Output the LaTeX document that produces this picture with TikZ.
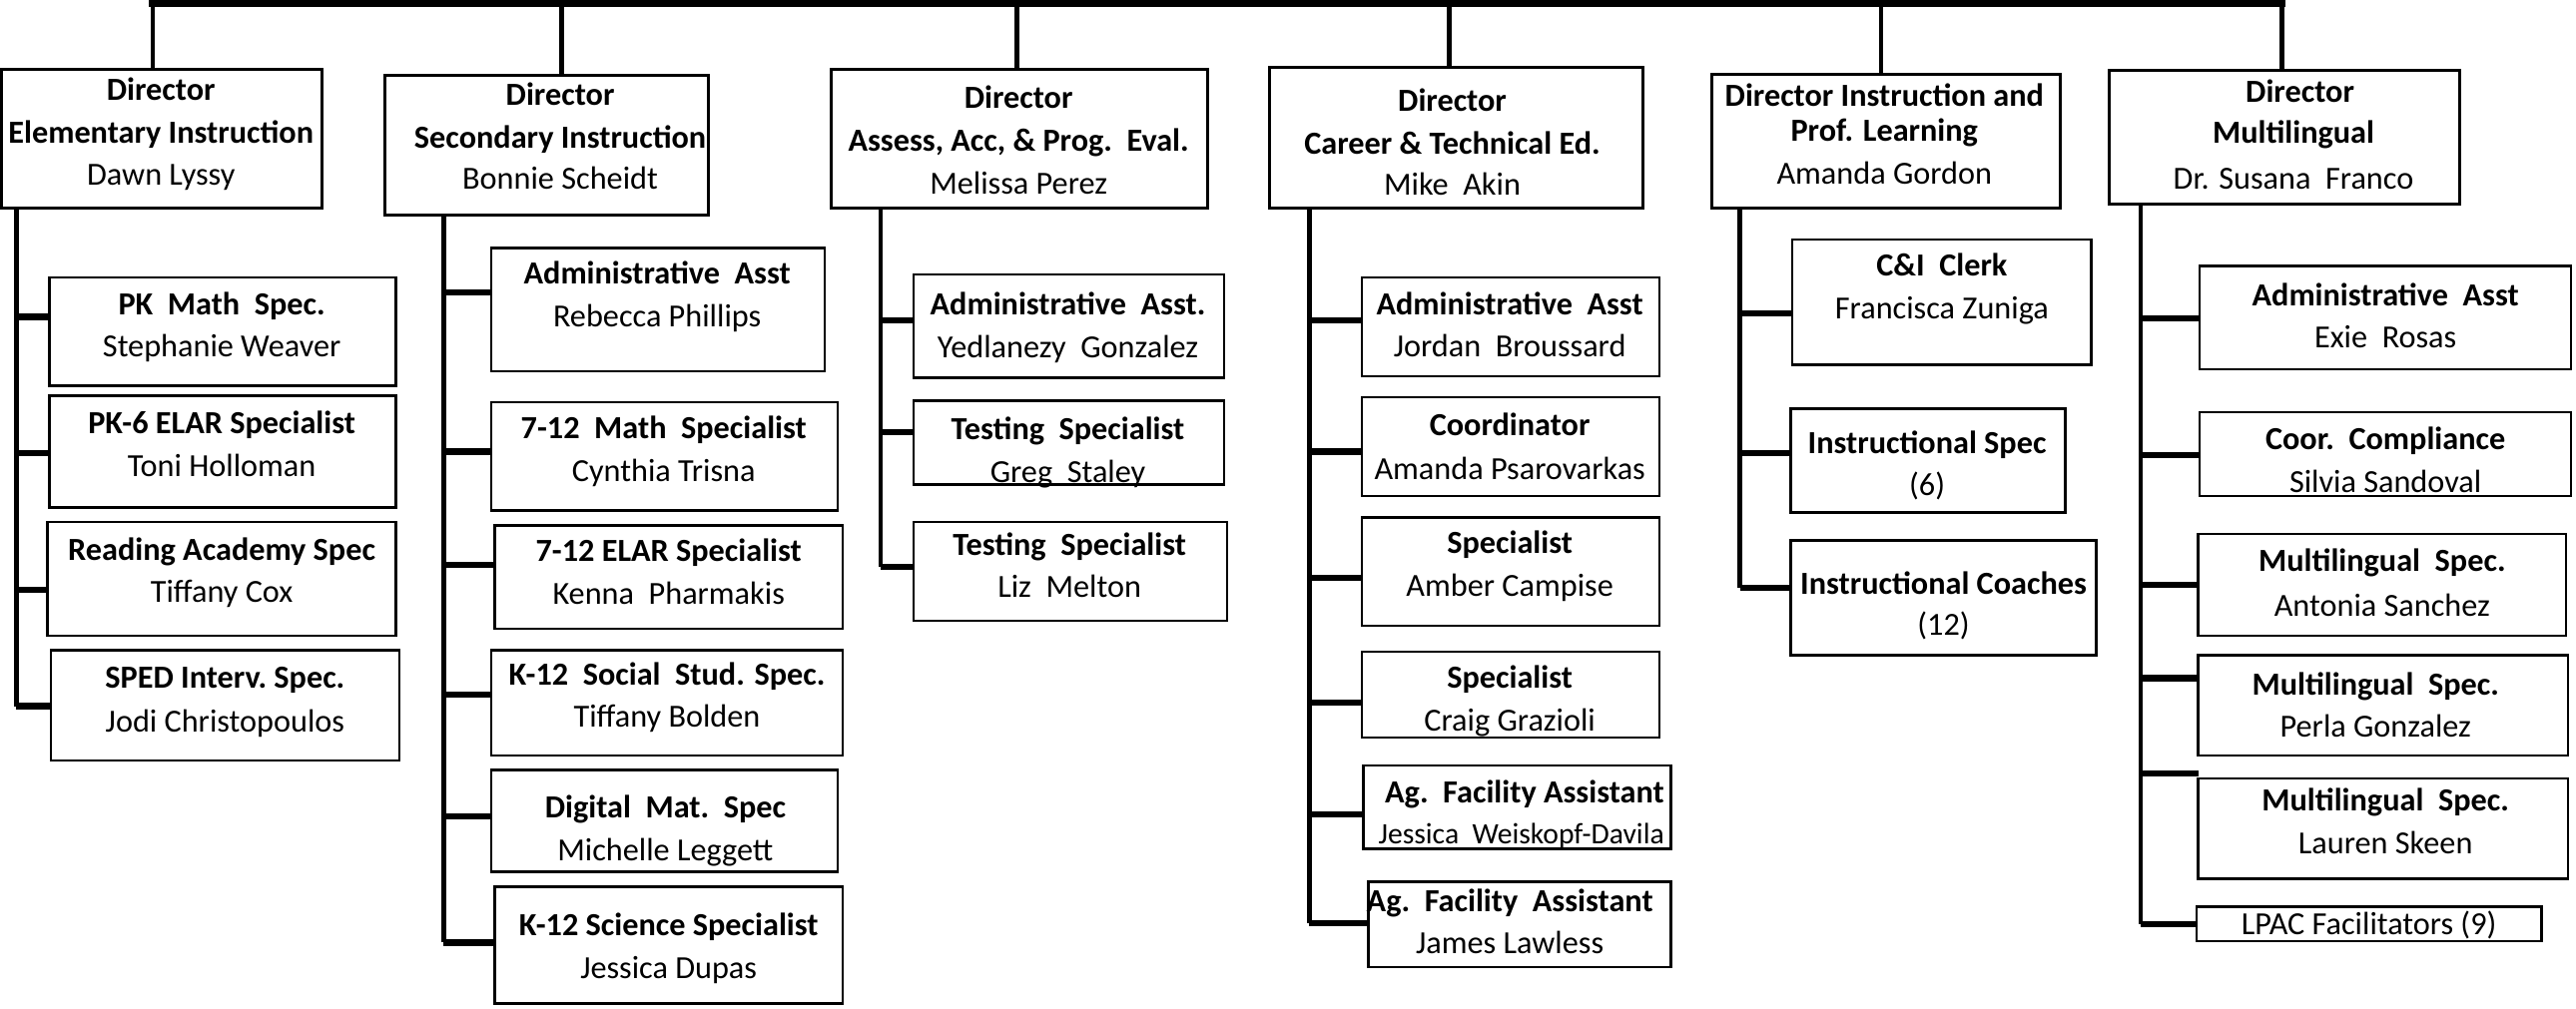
\documentclass[tikz,border=0pt]{standalone}
\usepackage{fontspec}
\setmainfont{Carlito}
\newcommand\mkbox[6][bx]{\node[#1, minimum width={(#5-#3)*0.5pt}, minimum height={(#6-#4)*0.5pt}] (#2) at ({(#3+#5)/2},{(#4+#6)/2}) {};}
\newcommand\tx[5]{\node[#4] (#1) at (#2,#3) [yshift=-3pt] {#5};}
\begin{document}
\begin{tikzpicture}[x=0.5pt,y=-0.5pt,
  bx/.style={draw=black, line width=0.75pt, fill=white, inner sep=0pt, outer sep=0pt},
  dbx/.style={bx, line width=0.9pt},
  vline/.style={line width=1.45pt},
  tick/.style={line width=1.9pt},
  topline/.style={line width=2.4pt},
  tt/.style={font=\fontsize{9.8}{12}\selectfont\bfseries, anchor=base, inner sep=0pt},
  nm/.style={font=\fontsize{9.8}{12}\selectfont, anchor=base, inner sep=0pt},
  sm/.style={font=\fontsize{9}{11}\selectfont, anchor=base, inner sep=0pt}]
\useasboundingbox (0,0) rectangle (1568,614);
% ---------- directors ----------
\mkbox[dbx]{d1}{1}{42}{196}{127}
\tx{d1a}{98}{55}{tt}{Director}
\tx{d1b}{98}{81}{tt}{Elementary Instruction}
\tx{d1c}{98}{107}{nm}{Dawn Lyssy}
\mkbox[dbx]{d2}{234}{46}{431}{131}
\tx{d2a}{341}{58}{tt}{Director}
\tx{d2b}{341}{84}{tt}{Secondary Instruction}
\tx{d2c}{341}{109}{nm}{Bonnie Scheidt}
\mkbox[dbx]{d3}{506}{42}{735}{127}
\tx{d3a}{620}{60}{tt}{Director}
\tx{d3b}{620}{86}{tt}{Assess, Acc, \& Prog.\ \ Eval.}
\tx{d3c}{620}{112}{nm}{Melissa Perez}
\mkbox[dbx]{d4}{773}{41}{1000}{127}
\tx{d4a}{884}{62}{tt}{Director}
\tx{d4b}{884}{88}{tt}{Career \& Technical Ed.}
\tx{d4c}{884}{113}{nm}{Mike\ \ Akin}
\mkbox[dbx]{d5}{1042}{45}{1254}{127}
\tx{d5a}{1147}{59}{tt}{Director Instruction and}
\tx{d5b}{1147}{80}{tt}{Prof. Learning}
\tx{d5c}{1147}{106}{nm}{Amanda Gordon}
\mkbox[dbx]{d6}{1284}{43}{1497}{124}
\tx{d6a}{1400}{56}{tt}{Director}
\tx{d6b}{1396}{81}{tt}{Multilingual}
\tx{d6c}{1396}{109}{nm}{Dr. Susana\ \ Franco}
% ---------- top bar ----------
\coordinate (tl) at (93,2);
\coordinate (tr) at (1389,2);
\draw[topline] ([xshift=-1.1pt]tl) -- ([xshift=1.1pt]tr);
\draw[vline] (tl) -- (d1.north -| tl);
\draw[vline] (342,2) -- (d2.north -| 342,0);
\draw[vline] (619,2) -- (d3.north -| 619,0);
\draw[vline] (882,2) -- (d4.north -| 882,0);
\draw[vline] (1145,2) -- (d5.north -| 1145,0);
\draw[vline] (tr) -- (d6.north -| tr);
% ---------- branch 1 ----------
\mkbox{c11}{30}{169}{241}{235}
\tx{c11a}{135}{186}{tt}{PK\ \ Math\ \ Spec.}
\tx{c11b}{135}{211}{nm}{Stephanie Weaver}
\mkbox{c12}{30}{241}{241}{309}
\tx{c12a}{135}{258}{tt}{PK-6 ELAR Specialist}
\tx{c12b}{135}{284}{nm}{Toni Holloman}
\mkbox{c13}{29}{318}{241}{387}
\tx{c13a}{135}{335}{tt}{Reading\ Academy\ Spec}
\tx{c13b}{135}{361}{nm}{Tiffany\ Cox}
\mkbox{c14}{31}{396}{243}{463}
\tx{c14a}{137}{413}{tt}{SPED\ Interv.\ Spec.}
\tx{c14b}{137}{440}{nm}{Jodi Christopoulos}
\draw[vline] (d1.south -| 10,0) -- (10,430);
\draw[tick] (10,193) -- (c11.west |- 10,193);
\draw[tick] (10,276) -- (c12.west |- 10,276);
\draw[tick] (10,359) -- (c13.west |- 10,359);
\draw[tick] (10,430) -- (c14.west |- 10,430);
% ---------- branch 2 ----------
\mkbox{c21}{299}{151}{502}{226}
\tx{c21a}{400}{167}{tt}{Administrative\ \ Asst}
\tx{c21b}{400}{193}{nm}{Rebecca\ Phillips}
\mkbox{c22}{299}{245}{510}{311}
\tx{c22a}{404}{261}{tt}{7-12\ \ Math\ \ Specialist}
\tx{c22b}{404}{287}{nm}{Cynthia Trisna}
\mkbox{c23}{301}{320}{513}{383}
\tx{c23a}{407}{336}{tt}{7-12 ELAR Specialist}
\tx{c23b}{407}{362}{nm}{Kenna\ \ Pharmakis}
\mkbox{c24}{299}{396}{513}{460}
\tx{c24a}{406}{411}{tt}{K-12\ \ Social\ \ Stud. Spec.}
\tx{c24b}{406}{437}{nm}{Tiffany Bolden}
\mkbox{c25}{299}{469}{510}{531}
\tx{c25a}{405}{492}{tt}{Digital\ \ Mat.\ \ Spec}
\tx{c25b}{405}{518}{nm}{Michelle Leggett}
\mkbox{c26}{301}{540}{513}{611}
\tx{c26a}{407}{564}{tt}{K-12 Science Specialist}
\tx{c26b}{407}{590}{nm}{Jessica Dupas}
\draw[vline] (d2.south -| 270,0) -- (270,574);
\draw[tick] (270,178) -- (c21.west |- 270,178);
\draw[tick] (270,275) -- (c22.west |- 270,275);
\draw[tick] (270,344) -- (c23.west |- 270,344);
\draw[tick] (270,423) -- (c24.west |- 270,423);
\draw[tick] (270,497) -- (c25.west |- 270,497);
\draw[tick] (270,574) -- (c26.west |- 270,574);
% ---------- branch 3 ----------
\mkbox{c31}{556}{167}{745}{230}
\tx{c31a}{650}{186}{tt}{Administrative\ \ Asst.}
\tx{c31b}{650}{212}{nm}{Yedlanezy\ \ Gonzalez}
\mkbox{c32}{556}{244}{745}{295}
\tx{c32a}{650}{262}{tt}{Testing\ \ Specialist}
\tx{c32b}{650}{288}{nm}{Greg\ \ Staley}
\mkbox{c33}{556}{318}{747}{378}
\tx{c33a}{651}{332}{tt}{Testing\ \ Specialist}
\tx{c33b}{651}{358}{nm}{Liz\ \ Melton}
\draw[vline] (d3.south -| 536,0) -- (536,345);
\draw[tick] (536,195) -- (c31.west |- 536,195);
\draw[tick] (536,263) -- (c32.west |- 536,263);
\draw[tick] (536,345) -- (c33.west |- 536,345);
% ---------- branch 4 ----------
\mkbox{c41}{829}{169}{1010}{229}
\tx{c41a}{919}{186}{tt}{Administrative\ \ Asst}
\tx{c41b}{919}{211}{nm}{Jordan\ \ Broussard}
\mkbox{c42}{829}{242}{1010}{302}
\tx{c42a}{919}{259}{tt}{Coordinator}
\tx{c42b}{919}{286}{nm}{Amanda Psarovarkas}
\mkbox{c43}{829}{315}{1010}{381}
\tx{c43a}{919}{331}{tt}{Specialist}
\tx{c43b}{919}{357}{nm}{Amber Campise}
\mkbox{c44}{829}{397}{1010}{449}
\tx{c44a}{919}{413}{tt}{Specialist}
\tx{c44b}{919}{439}{nm}{Craig Grazioli}
\mkbox{c45}{830}{466}{1017}{517}
\tx{c45a}{928}{483}{tt}{Ag.\ \ Facility\ Assistant}
\tx{c45b}{926}{508}{sm}{Jessica\ \ Weiskopf-Davila}
\mkbox{c46}{833}{537}{1017}{589}
\tx{c46a}{919}{549}{tt}{Ag.\ \ Facility\ \ Assistant}
\tx{c46b}{919}{575}{nm}{James Lawless}
\draw[vline] (d4.south -| 797,0) -- (797,562);
\draw[tick] (797,195) -- (c41.west |- 797,195);
\draw[tick] (797,275) -- (c42.west |- 797,275);
\draw[tick] (797,352) -- (c43.west |- 797,352);
\draw[tick] (797,428) -- (c44.west |- 797,428);
\draw[tick] (797,496) -- (c45.west |- 797,496);
\draw[tick] (797,562) -- (c46.west |- 797,562);
% ---------- branch 5 ----------
\mkbox{c51}{1091}{146}{1273}{222}
\tx{c51a}{1182}{162}{tt}{C\&I\ \ Clerk}
\tx{c51b}{1182}{188}{nm}{Francisca Zuniga}
\mkbox{c52}{1090}{249}{1257}{312}
\tx{c52a}{1173}{270}{tt}{Instructional Spec}
\tx{c52b}{1173}{296}{nm}{(6)}
\mkbox{c53}{1090}{329}{1276}{399}
\tx{c53a}{1183}{356}{tt}{Instructional Coaches}
\tx{c53b}{1183}{381}{nm}{(12)}
\draw[vline] (d5.south -| 1059,0) -- (1059,358);
\draw[tick] (1059,191) -- (c51.west |- 1059,191);
\draw[tick] (1059,276) -- (c52.west |- 1059,276);
\draw[tick] (1059,358) -- (c53.west |- 1059,358);
% ---------- branch 6 ----------
\mkbox{c61}{1339}{162}{1565}{225}
\tx{c61a}{1452}{180}{tt}{Administrative\ \ Asst}
\tx{c61b}{1452}{206}{nm}{Exie\ \ Rosas}
\mkbox{c62}{1339}{251}{1565}{302}
\tx{c62a}{1452}{268}{tt}{Coor.\ \ Compliance}
\tx{c62b}{1452}{294}{nm}{Silvia Sandoval}
\mkbox{c63}{1338}{325}{1562}{387}
\tx{c63a}{1450}{342}{tt}{Multilingual\ \ Spec.}
\tx{c63b}{1450}{369}{nm}{Antonia Sanchez}
\mkbox{c64}{1338}{399}{1563}{460}
\tx{c64a}{1446}{417}{tt}{Multilingual\ \ Spec.}
\tx{c64b}{1446}{443}{nm}{Perla Gonzalez}
\mkbox{c65}{1338}{474}{1563}{535}
\tx{c65a}{1452}{488}{tt}{Multilingual\ \ Spec.}
\tx{c65b}{1452}{514}{nm}{Lauren Skeen}
\mkbox{c66}{1337}{552}{1547}{573}
\tx{c66a}{1442}{563}{nm}{LPAC Facilitators (9)}
\draw[vline] (d6.south -| 1303,0) -- (1303,563);
\draw[tick] (1303,194) -- (c61.west |- 1303,194);
\draw[tick] (1303,277) -- (c62.west |- 1303,277);
\draw[tick] (1303,356) -- (c63.west |- 1303,356);
\draw[tick] (1303,413) -- (c64.west |- 1303,413);
\draw[tick] (1303,471) -- (c65.west |- 1303,471);
\draw[tick] (1303,563) -- (c66.west |- 1303,563);
\end{tikzpicture}
\end{document}
